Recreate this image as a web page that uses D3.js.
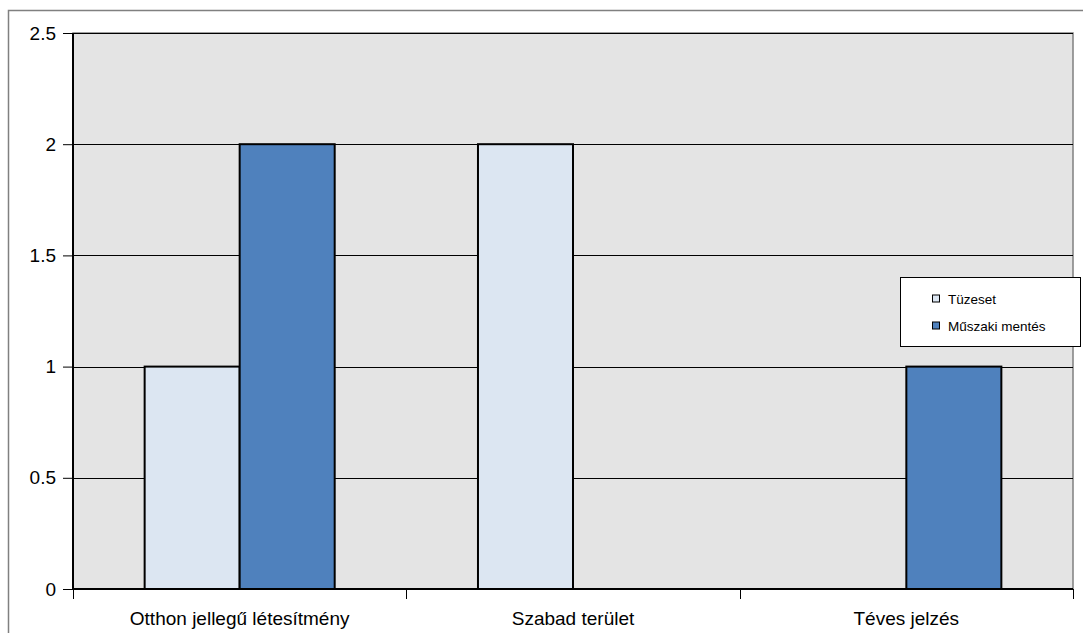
<!DOCTYPE html>
<html>
<head>
<meta charset="utf-8">
<script src="https://cdn.jsdelivr.net/npm/d3@7"></script>
<style>
  html, body { margin: 0; padding: 0; background: #ffffff; }
  svg { display: block; }
  text { font-family: "Liberation Sans", Arial, sans-serif; fill: #000; }
</style>
</head>
<body>
<script>
const categories = ["Otthon jellegű létesítmény", "Szabad terület", "Téves jelzés"];
const seriesNames = ["Tüzeset", "Műszaki mentés"];
const tuzeset = [1, 2, 0];
const muszaki = [2, 0, 1];
const seriesColors = ["#dce6f2", "#4f81bd"];
const yTicks = [0, 0.5, 1, 1.5, 2, 2.5];

const W = 1083, H = 633;
const plot = { left: 73, top: 33, right: 1073, bottom: 589 };

const svg = d3.select("body").append("svg").attr("width", W).attr("height", H);

// outer chart border
svg.append("rect").attr("x", 8.5).attr("y", 10.5).attr("width", 1200).attr("height", 800)
  .attr("fill", "none").attr("stroke", "#808080").attr("stroke-width", 1.5);

const x0 = d3.scaleBand().domain(categories).range([plot.left, plot.right]).padding(0);
const x1 = d3.scaleBand().domain(seriesNames).range([0, x0.bandwidth()]).paddingInner(0).paddingOuter(0.754);
const y = d3.scaleLinear().domain([0, 2.5]).range([plot.bottom, plot.top]);

// plot area
svg.append("rect").attr("x", plot.left).attr("y", plot.top)
  .attr("width", plot.right - plot.left).attr("height", plot.bottom - plot.top)
  .attr("fill", "#e4e4e4").attr("stroke", "#808080").attr("stroke-width", 1.5);

// gridlines
svg.append("g").selectAll("line").data(yTicks.filter(d => d > 0)).join("line")
  .attr("x1", plot.left).attr("x2", plot.right)
  .attr("y1", d => Math.round(y(d)) + 0.5).attr("y2", d => Math.round(y(d)) + 0.5)
  .attr("stroke", "#000").attr("stroke-width", 1);

// bars
const data = categories.map((c, i) => ({ cat: c, vals: [tuzeset[i], muszaki[i]] }));
const groups = svg.append("g").selectAll("g").data(data).join("g")
  .attr("transform", d => `translate(${x0(d.cat)},0)`);
groups.selectAll("rect").data(d => d.vals.map((v, j) => ({ v, s: seriesNames[j], j })).filter(e => e.v > 0))
  .join("rect")
  .attr("x", e => x1(e.s)).attr("width", x1.bandwidth())
  .attr("y", e => y(e.v)).attr("height", e => y(0) - y(e.v))
  .attr("fill", e => seriesColors[e.j]).attr("stroke", "#000").attr("stroke-width", 2);

// y axis
const yAxis = d3.axisLeft(y).tickValues(yTicks).tickFormat(d3.format("")).tickSize(10).tickPadding(7);
const gy = svg.append("g").attr("transform", `translate(${plot.left},0)`).call(yAxis);
gy.select(".domain").attr("stroke", "#000").attr("stroke-width", 2).attr("d", `M0,${plot.top}V${plot.bottom}`);
gy.selectAll(".tick line").attr("stroke", "#000");
gy.selectAll(".tick text").style("font-size", "19px").style("font-family", "'Liberation Sans', Arial, sans-serif").attr("fill", "#000");

// x axis
const gx = svg.append("g").attr("transform", `translate(0,${plot.bottom})`);
gx.append("line").attr("x1", plot.left).attr("x2", plot.right).attr("y1", 0).attr("y2", 0)
  .attr("stroke", "#000").attr("stroke-width", 2);
const boundaries = categories.map(c => x0(c)).concat([x0(categories[categories.length - 1]) + x0.bandwidth()]);
gx.selectAll("line.tk").data(boundaries).join("line").attr("class", "tk")
  .attr("x1", d => Math.round(d) + 0.5).attr("x2", d => Math.round(d) + 0.5)
  .attr("y1", 0).attr("y2", 10).attr("stroke", "#000");
gx.selectAll("text").data(categories).join("text")
  .attr("x", d => x0(d) + x0.bandwidth() / 2).attr("y", 36)
  .attr("text-anchor", "middle").style("font-size", "19px").text(d => d);

// legend
const lg = svg.append("g").attr("transform", "translate(900,277)");
lg.append("rect").attr("x", 0.5).attr("y", 0.5).attr("width", 180).attr("height", 69)
  .attr("fill", "#fff").attr("stroke", "#000").attr("stroke-width", 1);
const rows = lg.selectAll("g").data(seriesNames).join("g")
  .attr("transform", (d, i) => `translate(32,${21.5 + i * 27})`);
rows.append("rect").attr("x", 0.5).attr("y", -3.5).attr("width", 7).attr("height", 7)
  .attr("fill", (d, i) => seriesColors[i]).attr("stroke", "#000").attr("stroke-width", 1);
rows.append("text").attr("x", 16).attr("y", 5).style("font-size", "13.5px").text(d => d);
</script>
</body>
</html>
